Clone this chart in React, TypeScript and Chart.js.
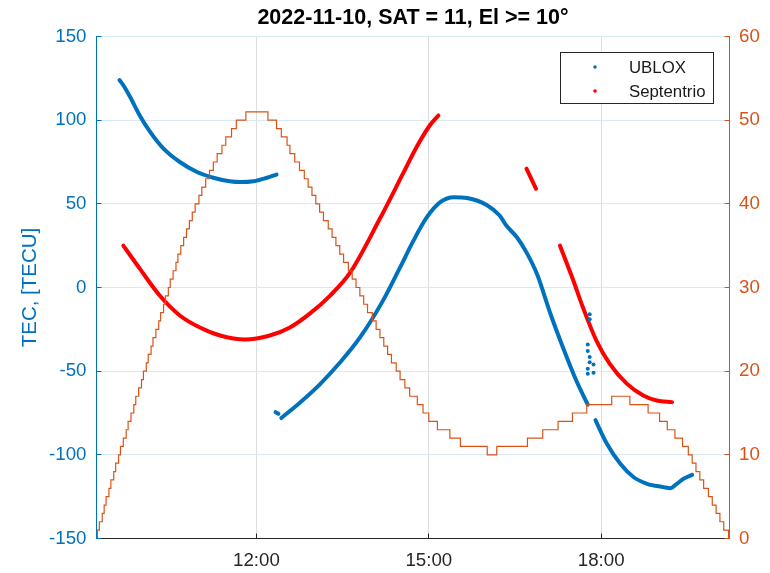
import { useEffect, useRef } from "react";
import { Chart, registerables } from "chart.js";

Chart.register(...registerables);

const FONT = '"Liberation Sans", Arial, Helvetica, sans-serif';
const BLUE = "#0072BD";
const ORANGE = "#D95319";
const RED = "#FF0000";
const AXIS_DARK = "#262626";
const GRID_BLUE = "#D9EAF5";
const GRID_GRAY = "#DEDEDE";

const TITLE = "2022-11-10, SAT = 11, El >= 10°";
const TEC_LABEL = "TEC, [TECU]";
const RECEIVERS = ["UBLOX", "Septentrio"];

const TIME_RANGE = ["09:13", "20:14"];
const TIME_TICKS = ["12:00", "15:00", "18:00"];
const TEC_RANGE = [-150, 150];
const TEC_STEP = 50;
const ELEV_RANGE = [0, 60];
const ELEV_STEP = 10;

// UBLOX slant TEC, one array pair per continuous arc
const UBLOX_A_T = ["09:37", "09:42", "09:48", "09:58", "10:09", "10:23", "10:40", "10:58", "11:15", "11:32", "11:43", "11:57", "12:11", "12:21"];
const UBLOX_A_TEC = [124, 120, 114, 103, 93, 83, 75, 69, 65.6, 63.5, 63, 63.5, 65.6, 67.5];
const UBLOX_B_T = ["12:20", "12:23"];
const UBLOX_B_TEC = [-74.5, -75.5];
const UBLOX_C_T = ["12:26", "12:45", "13:06", "13:27", "13:48", "14:12", "14:30", "14:44", "14:58", "15:12", "15:26", "15:40", "16:00", "16:14", "16:21", "16:32", "16:42", "16:53", "17:07", "17:20", "17:34", "17:46"];
const UBLOX_C_TEC = [-78, -69, -58, -45, -30, -8, 12, 28, 42, 51, 54, 53.5, 49.5, 43, 37, 30, 21, 8, -15.7, -35.7, -55.6, -70];
const UBLOX_D_T = ["17:54", "18:06", "18:20", "18:34", "18:48", "19:05", "19:12", "19:19", "19:26", "19:35"];
const UBLOX_D_TEC = [-79.3, -93.4, -105.4, -113.4, -117.3, -119.3, -120, -117.3, -114.3, -112];
// isolated UBLOX samples around the 17:47 cycle slip
const UBLOX_SPIKE_T = ["17:48", "17:48", "17:46", "17:46", "17:48", "17:48", "17:46", "17:46", "17:52", "17:52"];
const UBLOX_SPIKE_TEC = [-16, -19, -34, -38, -41.6, -44.6, -48.6, -51.6, -46, -51];

// Septentrio slant TEC arcs
const SEPT_A_T = ["09:41", "09:58", "10:19", "10:40", "11:01", "11:22", "11:48", "12:14", "12:35", "12:56", "13:17", "13:38", "14:09", "14:33", "14:47", "15:01", "15:10"];
const SEPT_A_TEC = [25, 11.4, -4.8, -16.7, -23.9, -28.7, -31.1, -28.7, -23.9, -15.5, -4.8, 9, 41.2, 68, 83.7, 96.8, 102.8];
const SEPT_B_T = ["16:42", "16:52"];
const SEPT_B_TEC = [71, 59];
const SEPT_C_T = ["17:17", "17:31", "17:41", "17:55", "18:09", "18:27", "18:44", "18:58", "19:14"];
const SEPT_C_TEC = [25, 4, -12, -31.7, -45.6, -57.6, -64.5, -67.5, -68.5];

// satellite elevation (deg), time at which each rounded value starts
const ELEV_T = ["09:13", "09:14", "09:16", "09:19", "09:21", "09:23", "09:26", "09:28", "09:31", "09:33", "09:36", "09:38", "09:41", "09:44", "09:46", "09:49", "09:52", "09:54", "09:57", "10:00", "10:02", "10:05", "10:07", "10:10", "10:12", "10:15", "10:18", "10:20", "10:23", "10:25", "10:28", "10:30", "10:33", "10:36", "10:38", "10:41", "10:44", "10:47", "10:50", "10:53", "10:56", "11:00", "11:03", "11:07", "11:11", "11:15", "11:19", "11:24", "11:28", "11:34", "11:39", "11:49",
  "12:12", "12:21", "12:26", "12:32", "12:35", "12:40", "12:45", "12:50", "12:54", "12:58", "13:02", "13:06", "13:10", "13:15", "13:19", "13:23", "13:27", "13:31", "13:36", "13:40", "13:44", "13:48", "13:52", "13:56", "14:01", "14:05", "14:09", "14:13", "14:17", "14:21", "14:26", "14:30", "14:35", "14:40", "14:48", "14:54", "15:00", "15:09", "15:22", "15:33",
  "16:01", "16:11", "16:43", "16:59", "17:15", "17:30", "17:45", "18:11", "18:30", "18:49", "19:01", "19:09", "19:17", "19:25", "19:31", "19:35", "19:39", "19:43", "19:47", "19:52", "19:56", "20:00", "20:04", "20:08", "20:13", "20:14"];
const ELEV_DEG = [0, 1, 2, 3, 4, 5, 6, 7, 8, 9, 10, 11, 12, 13, 14, 15, 16, 17, 18, 19, 20, 21, 22, 23, 24, 25, 26, 27, 28, 29, 30, 31, 32, 33, 34, 35, 36, 37, 38, 39, 40, 41, 42, 43, 44, 45, 46, 47, 48, 49, 50, 51,
  50, 49, 48, 47, 46, 45, 44, 43, 42, 41, 40, 39, 38, 37, 36, 35, 34, 33, 32, 31, 30, 29, 28, 27, 26, 25, 24, 23, 22, 21, 20, 19, 18, 17, 16, 15, 14, 13, 12, 11,
  10, 11, 12, 13, 14, 15, 16, 17, 16, 15, 14, 13, 12, 11, 10, 9, 8, 7, 6, 5, 4, 3, 2, 1, 0, 0];

const toMin = (s: string) => {
  const [h, m] = s.split(":").map(Number);
  return h * 60 + m;
};
const fmtTime = (v: number) => `${Math.floor(v / 60)}:${String(Math.round(v % 60)).padStart(2, "0")}`;

type Pt = { x: number; y: number | null };
// join arcs into one series, with a null sample between arcs so the line breaks
const joinArcs = (arcs: [string[], number[]][]): Pt[] => {
  const out: Pt[] = [];
  arcs.forEach(([t, v], i) => {
    if (i > 0) out.push({ x: toMin(t[0]) - 0.1, y: null });
    t.forEach((s, j) => out.push({ x: toMin(s), y: v[j] }));
  });
  return out;
};

const TICK_LEN = 5;

// title centred over the plot area rather than the whole canvas
const axesTitle = {
  id: "axesTitle",
  afterDraw(chart: any) {
    const { ctx, chartArea: a } = chart;
    ctx.save();
    ctx.font = `bold 21.5px ${FONT}`;
    ctx.fillStyle = "#000000";
    ctx.textAlign = "center";
    ctx.textBaseline = "middle";
    ctx.fillText(TITLE, (a.left + a.right) / 2, 18.5);
    ctx.restore();
  },
};

// MATLAB-style inward tick marks on the three axes
const inwardTicks = {
  id: "inwardTicks",
  afterDatasetsDraw(chart: any) {
    const { ctx, chartArea: a, scales } = chart;
    const snap = (p: number) => Math.round(p - 0.5) + 0.5;
    ctx.save();
    ctx.lineWidth = 1;
    ctx.strokeStyle = BLUE;
    scales.y.ticks.forEach((t: any) => {
      const y = snap(scales.y.getPixelForValue(t.value));
      ctx.beginPath();
      ctx.moveTo(a.left, y);
      ctx.lineTo(a.left + TICK_LEN, y);
      ctx.stroke();
    });
    ctx.strokeStyle = ORANGE;
    scales.y1.ticks.forEach((t: any) => {
      const y = snap(scales.y1.getPixelForValue(t.value));
      ctx.beginPath();
      ctx.moveTo(a.right, y);
      ctx.lineTo(a.right - TICK_LEN, y);
      ctx.stroke();
    });
    ctx.strokeStyle = AXIS_DARK;
    scales.x.ticks.forEach((t: any) => {
      const x = snap(scales.x.getPixelForValue(t.value));
      ctx.beginPath();
      ctx.moveTo(x, a.bottom);
      ctx.lineTo(x, a.bottom - TICK_LEN);
      ctx.stroke();
    });
    ctx.restore();
  },
};

// boxed legend in the upper right of the plot
const boxedLegend = {
  id: "boxedLegend",
  afterDraw(chart: any) {
    const { ctx } = chart;
    const colors = [BLUE, RED];
    ctx.save();
    ctx.fillStyle = "#ffffff";
    ctx.fillRect(560.5, 52.5, 153, 51);
    ctx.strokeStyle = AXIS_DARK;
    ctx.lineWidth = 1;
    ctx.strokeRect(560.5, 52.5, 153, 51);
    ctx.font = `16.8px ${FONT}`;
    ctx.textBaseline = "middle";
    ctx.textAlign = "left";
    RECEIVERS.forEach((name, i) => {
      const cy = 67 + i * 24;
      ctx.fillStyle = colors[i];
      ctx.beginPath();
      ctx.arc(595, cy, 1.8, 0, Math.PI * 2);
      ctx.fill();
      ctx.fillStyle = "#1a1a1a";
      ctx.fillText(name, 629, cy + 1);
    });
    ctx.restore();
  },
};

export default function App() {
  const ref = useRef<HTMLCanvasElement>(null);

  useEffect(() => {
    const canvas = ref.current;
    if (!canvas) return;

    const ublox = joinArcs([
      [UBLOX_A_T, UBLOX_A_TEC],
      [UBLOX_B_T, UBLOX_B_TEC],
      [UBLOX_C_T, UBLOX_C_TEC],
      [UBLOX_D_T, UBLOX_D_TEC],
    ]);
    const sept = joinArcs([
      [SEPT_A_T, SEPT_A_TEC],
      [SEPT_B_T, SEPT_B_TEC],
      [SEPT_C_T, SEPT_C_TEC],
    ]);
    const spikes = UBLOX_SPIKE_T.map((t, i) => ({ x: toMin(t), y: UBLOX_SPIKE_TEC[i] }));
    const elev = ELEV_T.map((t, i) => ({ x: toMin(t), y: ELEV_DEG[i] }));

    const tickFont = { family: FONT, size: 18.7 };
    const tecLine = {
      yAxisID: "y",
      borderWidth: 4,
      borderCapStyle: "round",
      borderJoinStyle: "round",
      cubicInterpolationMode: "monotone",
      pointRadius: 0,
      spanGaps: false,
    };

    const chart = new Chart(canvas, {
      type: "line",
      data: {
        datasets: [
          {
            label: "Elevation",
            data: elev,
            yAxisID: "y1",
            borderColor: ORANGE,
            borderWidth: 1.2,
            pointRadius: 0,
            stepped: true,
            order: 0,
          },
          {
            label: RECEIVERS[0] + " spikes",
            data: spikes,
            yAxisID: "y",
            showLine: false,
            pointRadius: 2,
            pointBorderWidth: 0,
            pointBackgroundColor: BLUE,
            order: 1,
          },
          { ...tecLine, label: RECEIVERS[0], data: ublox, borderColor: BLUE, order: 2 },
          { ...tecLine, label: RECEIVERS[1], data: sept, borderColor: RED, order: 3 },
        ],
      } as any,
      options: {
        responsive: false,
        devicePixelRatio: 1,
        animation: false,
        layout: { padding: { top: 36.5, left: 0, right: 0, bottom: 0 } },
        plugins: {
          legend: { display: false },
          tooltip: { enabled: false },
          title: { display: false },
        },
        scales: {
          x: {
            type: "linear",
            min: toMin(TIME_RANGE[0]),
            max: toMin(TIME_RANGE[1]),
            afterBuildTicks: (s: any) => {
              s.ticks = TIME_TICKS.map((t) => ({ value: toMin(t) }));
            },
            afterFit: (s: any) => {
              s.height = 34.5;
            },
            ticks: {
              autoSkip: false,
              maxRotation: 0,
              color: AXIS_DARK,
              font: tickFont,
              padding: 11,
              callback: (v: any) => fmtTime(Number(v)),
            },
            grid: { color: GRID_GRAY, lineWidth: 1, drawTicks: false },
            border: { color: AXIS_DARK, width: 1 },
          },
          y: {
            position: "left",
            min: TEC_RANGE[0],
            max: TEC_RANGE[1],
            afterFit: (s: any) => {
              s.width = 96.5;
            },
            ticks: { stepSize: TEC_STEP, color: BLUE, font: tickFont, padding: 10 },
            grid: { color: GRID_BLUE, lineWidth: 1, drawTicks: false },
            border: { color: BLUE, width: 1 },
            title: {
              display: true,
              text: TEC_LABEL,
              color: BLUE,
              font: { family: FONT, size: 20.5, lineHeight: 1.2 },
              padding: { top: 17.7, bottom: 0 },
            },
          },
          y1: {
            position: "right",
            min: ELEV_RANGE[0],
            max: ELEV_RANGE[1],
            afterFit: (s: any) => {
              s.width = 40.5;
            },
            ticks: { stepSize: ELEV_STEP, color: ORANGE, font: tickFont, padding: 9.5 },
            grid: { drawOnChartArea: false, drawTicks: false },
            border: { color: ORANGE, width: 1 },
          },
        },
      } as any,
      plugins: [axesTitle, inwardTicks, boxedLegend],
    });

    return () => chart.destroy();
  }, []);

  return (
    <div style={{ position: "absolute", left: 0, top: 0, width: 770, height: 573, background: "#ffffff" }}>
      <canvas ref={ref} width={770} height={573} style={{ display: "block", width: 770, height: 573 }} />
    </div>
  );
}
